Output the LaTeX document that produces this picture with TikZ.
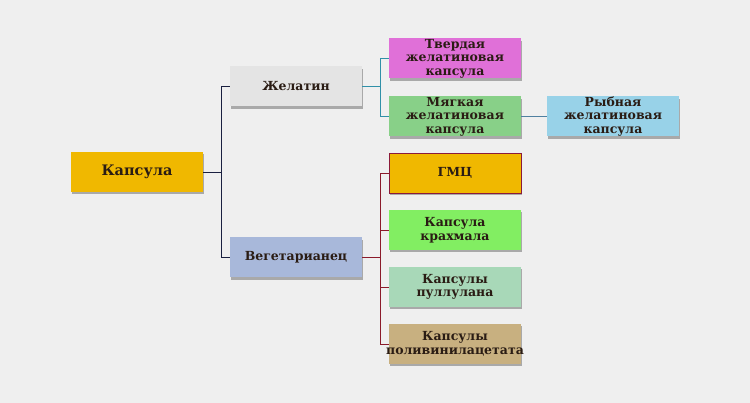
\documentclass[tikz,border=0pt]{standalone}
\usepackage{fontspec}
\setmainfont{DejaVu Serif}
\usetikzlibrary{shadows}
\definecolor{bgc}{HTML}{EFEFEF}
\definecolor{txt}{HTML}{2A1C14}
\definecolor{cgold}{HTML}{F0B800}
\definecolor{cgray}{HTML}{E4E4E4}
\definecolor{cblue}{HTML}{A8B8DA}
\definecolor{cmag}{HTML}{E070D8}
\definecolor{cgreen}{HTML}{88D088}
\definecolor{csky}{HTML}{98D2E8}
\definecolor{clime}{HTML}{82EE62}
\definecolor{cmint}{HTML}{A8D8B8}
\definecolor{ctan}{HTML}{C8B080}
\definecolor{lnavy}{HTML}{1A2040}
\definecolor{lteal}{HTML}{3090A8}
\definecolor{lsteel}{HTML}{5080A0}
\definecolor{lred}{HTML}{8B1A2A}
\definecolor{bmaroon}{HTML}{8B1A3A}
\tikzset{
  box/.style={minimum width=132pt, minimum height=40pt, inner sep=0pt, align=center,
    text=txt, font=\fontsize{12.5}{13.5}\selectfont\bfseries,
    drop shadow={shadow xshift=0.5pt, shadow yshift=-2.5pt, opacity=0.4, fill=black!75}},
  conn/.style={line width=0.9pt},
}
\begin{document}
\begin{tikzpicture}[x=1pt,y=-1pt]
\fill[bgc] (0,0) rectangle (750,403);
\useasboundingbox (0,0) rectangle (750,403);
\node[box, fill=cgold, font=\fontsize{14.5}{16}\selectfont\bfseries] (kap) at (137,172) {Капсула};
\node[box, fill=cgray] (zhel) at (296,86.5) {Желатин};
\node[box, fill=cblue] (veg) at (296,257.5) {Вегетарианец};
\node[box, fill=cmag] (tverd) at (455,58.5) {Твердая\\желатиновая\\капсула};
\node[box, fill=cgreen] (myag) at (455,116.5) {Мягкая\\желатиновая\\капсула};
\node[box, fill=csky] (ryb) at (613,116.5) {Рыбная\\желатиновая\\капсула};
\node[box, fill=cgold, draw=bmaroon, line width=0.8pt] (gmc) at (455,173) {ГМЦ};
\node[box, fill=clime] (kra) at (455,230) {Капсула\\крахмала};
\node[box, fill=cmint] (pul) at (455,287) {Капсулы\\пуллулана};
\node[box, fill=ctan] (pva) at (455,344) {Капсулы\\\makebox[120pt][c]{поливинилацетата}};
\draw[conn, lnavy] (kap.east) -- ++(18,0) |- (zhel.west);
\draw[conn, lnavy] (kap.east) -- ++(18,0) |- (veg.west);
\draw[conn, lteal] (zhel.east) -- ++(18,0) |- (tverd.west);
\draw[conn, lteal] (zhel.east) -- ++(18,0) |- (myag.west);
\draw[conn, lsteel] (myag.east) -- (ryb.west);
\draw[conn, lred] (veg.east) -- ++(18,0) |- (gmc.west);
\draw[conn, lred] (veg.east) -- ++(18,0) |- (kra.west);
\draw[conn, lred] (veg.east) -- ++(18,0) |- (pul.west);
\draw[conn, lred] (veg.east) -- ++(18,0) |- (pva.west);
\end{tikzpicture}
\end{document}
